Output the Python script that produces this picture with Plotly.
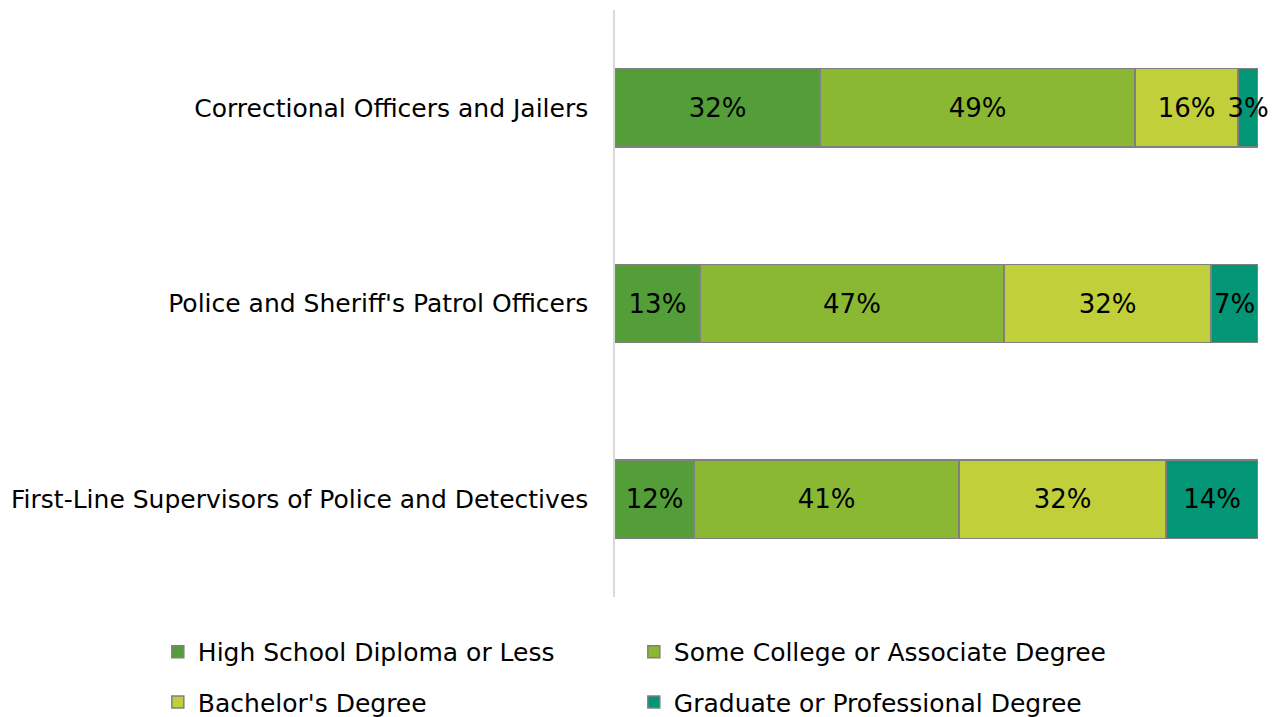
import plotly.graph_objects as go

categories = ["First-Line Supervisors of Police and Detectives",
              "Police and Sheriff's Patrol Officers",
              "Correctional Officers and Jailers"]
series_names = ["High School Diploma or Less", "Some College or Associate Degree",
                "Bachelor's Degree", "Graduate or Professional Degree"]
high_school = [12.3, 13.2, 31.9]
some_college = [41.2, 47.3, 49.0]
bachelors = [32.2, 32.2, 16.0]
graduate = [14.3, 7.3, 3.1]
colors = ["#549E39", "#8AB833", "#C0CF3A", "#029676"]

FONT = "DejaVu Sans"
fig = go.Figure()
for i, (name, vals) in enumerate(zip(series_names, [high_school, some_college, bachelors, graduate])):
    fig.add_trace(go.Bar(
        y=categories, x=vals, name=name, orientation="h",
        marker=dict(color=colors[i], line=dict(color="#808080", width=1.5)),
        text=[f"{round(v)}%" for v in vals], textposition="inside",
        insidetextanchor="middle", constraintext="none", textangle=0,
        textfont=dict(size=26, color="black", family=FONT),
        cliponaxis=False,
        legend="legend" if i < 2 else "legend2",
        hoverinfo="skip",
    ))

fig.update_layout(
    width=1274, height=709, barmode="stack", bargap=0.6,
    plot_bgcolor="white", paper_bgcolor="white",
    margin=dict(l=607, r=24, t=2, b=120, autoexpand=False),
    font=dict(family=FONT, size=25, color="black"),
    uniformtext=dict(mode=False),
    xaxis=dict(range=[0, 100], visible=False, fixedrange=True, automargin=False),
    yaxis=dict(showline=True, linecolor="#D9D9D9", linewidth=1.5, ticks="",
               automargin=False,
               ticklabelstandoff=20, tickfont=dict(size=25, family=FONT)),
    legend=dict(orientation="h", x=-0.711, xanchor="left", y=-0.0545, yanchor="top",
                entrywidth=431, entrywidthmode="pixels", itemwidth=30,
                font=dict(size=25, family=FONT), traceorder="normal"),
    legend2=dict(orientation="h", x=-0.711, xanchor="left", y=-0.14, yanchor="top",
                 entrywidth=431, entrywidthmode="pixels", itemwidth=30,
                 font=dict(size=25, family=FONT), traceorder="normal"),
)
fig.write_html("out.html")
